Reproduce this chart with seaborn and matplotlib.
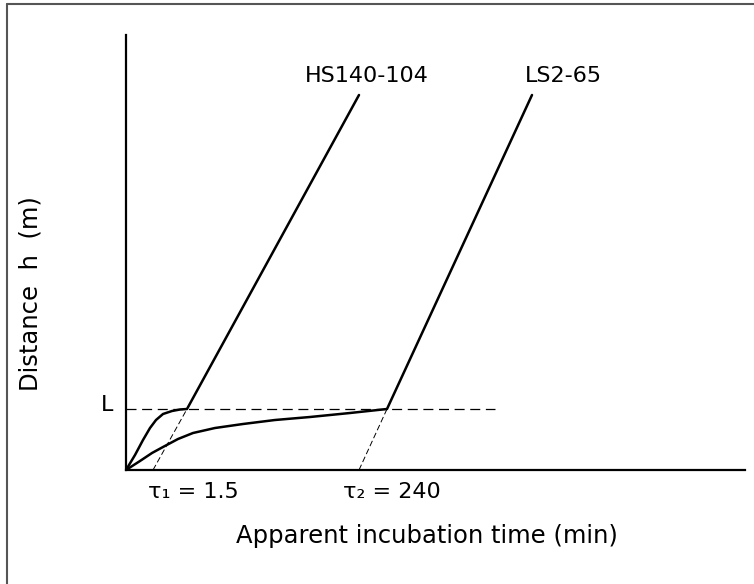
import matplotlib
matplotlib.use("Agg")
import matplotlib.pyplot as plt
import seaborn as sns
import pandas as pd
from matplotlib.lines import Line2D

# ---- data (schematic units) ----
hs_x = [0, 9, 17, 24, 30, 37, 46, 54, 61, 233]
hs_y = [0, 15, 30, 42, 50, 56, 59, 60.5, 61, 375]
ls_x = [0, 14, 26, 37, 52, 67, 89, 117, 149, 184, 224, 261, 406]
ls_y = [0, 9, 17, 23, 31, 37, 42, 46, 50, 53, 57, 61, 375]
level_L = 61
level_L_end = 369
tau1_x = [27, 61]
tau2_x = [233, 261]
tau_y = [0, 61]
series_labels = ["HS140-104", "LS2-65"]
tau_labels = ["τ₁ = 1.5", "τ₂ = 240"]

sns.set_style("white")
plt.rcParams['font.family'] = ['DejaVu Sans']
plt.rcParams['text.color'] = 'black'
plt.rcParams['axes.labelcolor'] = 'black'

W, H = 754, 584
fig = plt.figure(figsize=(W / 100, H / 100), dpi=100)
x0, y0, x1, y1 = 126, 470, 745, 35
ax = fig.add_axes([x0 / W, (H - y0) / H, (x1 - x0) / W, (y0 - y1) / H])

df_hs = pd.DataFrame({"t": hs_x, "h": hs_y})
df_ls = pd.DataFrame({"t": ls_x, "h": ls_y})
sns.lineplot(data=df_hs, x="t", y="h", sort=False, color="black", lw=1.8, ax=ax)
sns.lineplot(data=df_ls, x="t", y="h", sort=False, color="black", lw=1.8, ax=ax)

# dashed level L
ax.plot([0, level_L_end], [level_L, level_L], color="black", lw=0.9, dashes=(8, 4.5))
# dashed extrapolations
ax.plot(tau1_x, tau_y, color="black", lw=0.7, dashes=(6, 3))
ax.plot(tau2_x, tau_y, color="black", lw=0.7, dashes=(6, 3))

ax.set_xlim(0, x1 - x0)
ax.set_ylim(0, y0 - y1)
ax.set_xticks([])
ax.set_yticks([])
for s in ["top", "right"]:
    ax.spines[s].set_visible(False)
for s in ["left", "bottom"]:
    ax.spines[s].set_color("black")
    ax.spines[s].set_linewidth(1.6)

fs = 16
ax.text(241, 394, series_labels[0], ha="center", va="center", fontsize=fs)
ax.text(437, 394, series_labels[1], ha="center", va="center", fontsize=fs)
ax.text(-19, 65, "L", ha="center", va="center", fontsize=fs, clip_on=False)
ax.text(67, -22, tau_labels[0], ha="center", va="center", fontsize=fs, clip_on=False)
ax.text(266, -22, tau_labels[1], ha="center", va="center", fontsize=fs, clip_on=False)

ax.set_xlabel("Apparent incubation time (min)", fontsize=17.5)
ax.xaxis.set_label_coords((427 - x0) / (x1 - x0), (y0 - 524) / (y0 - y1))
ax.set_ylabel("Distance  h  (m)", fontsize=17.5)
ax.yaxis.set_label_coords((43 - x0) / (x1 - x0), (y0 - 294) / (y0 - y1))

# outer frame (top and left edges)
fig.add_artist(Line2D([7 / W, 1], [1 - 4 / H, 1 - 4 / H], transform=fig.transFigure, color="#555555", lw=1.5))
fig.add_artist(Line2D([7 / W, 7 / W], [0, 1 - 4 / H], transform=fig.transFigure, color="#555555", lw=1.5))

fig.savefig("out.png", dpi=100)
